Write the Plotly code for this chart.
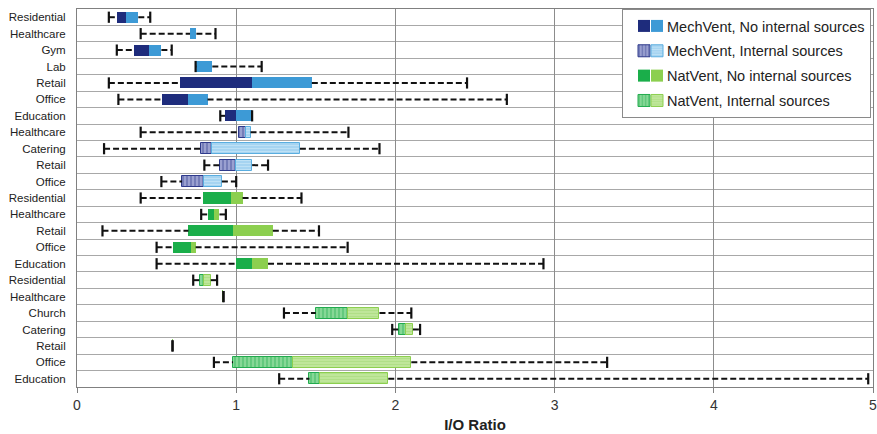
import plotly.graph_objects as go

# ---------------- data ----------------
labels = ["Residential", "Healthcare", "Gym", "Lab", "Retail", "Office", "Education",
          "Healthcare", "Catering", "Retail", "Office",
          "Residential", "Healthcare", "Retail", "Office", "Education",
          "Residential", "Healthcare", "Church", "Catering", "Retail", "Office", "Education"]
group = [0] * 7 + [1] * 4 + [2] * 5 + [3] * 7
wmin = [0.20, 0.40, 0.25, 0.745, 0.20, 0.26, 0.90,
        0.40, 0.17, 0.80, 0.53,
        0.40, 0.78, 0.16, 0.50, 0.50,
        0.73, 0.92, 1.30, 1.98, 0.60, 0.86, 1.27]
q1 = [0.25, 0.71, 0.355, 0.75, 0.65, 0.535, 0.93,
      1.02, 0.78, 0.90, 0.66,
      0.79, 0.82, 0.70, 0.60, 1.00,
      0.77, 0.92, 1.50, 2.02, 0.60, 0.98, 1.46]
med = [0.305, 0.71, 0.45, 0.75, 1.10, 0.70, 1.00,
       1.06, 0.845, 1.00, 0.80,
       0.97, 0.86, 0.98, 0.715, 1.10,
       0.80, 0.92, 1.705, 2.065, 0.60, 1.355, 1.525]
q3 = [0.385, 0.75, 0.53, 0.85, 1.475, 0.82, 1.10,
      1.09, 1.40, 1.10, 0.91,
      1.04, 0.895, 1.23, 0.745, 1.20,
      0.84, 0.92, 1.90, 2.11, 0.60, 2.10, 1.955]
wmax = [0.46, 0.87, 0.595, 1.16, 2.45, 2.70, 1.10,
        1.705, 1.90, 1.20, 1.00,
        1.41, 0.935, 1.52, 1.70, 2.93,
        0.88, 0.92, 2.10, 2.155, 0.60, 3.33, 4.97]
group_names = ["MechVent, No internal sources", "MechVent, Internal sources",
               "NatVent, No internal sources", "NatVent, Internal sources"]
x_ticks = [0, 1, 2, 3, 4, 5]

# ---------------- styles ----------------
dark_style = [
    dict(color="#1e2c7c", line=dict(width=0)),
    dict(color="#8f95c9", line=dict(color="#2e3a8c", width=1),
         pattern=dict(shape="|", bgcolor="#9aa0d0", fgcolor="#2e3a8c", size=4, solidity=0.35)),
    dict(color="#1aae4a", line=dict(width=0)),
    dict(color="#80d492", line=dict(color="#22ab4e", width=1),
         pattern=dict(shape="|", bgcolor="#86d896", fgcolor="#22ab4e", size=4, solidity=0.35)),
]
light_style = [
    dict(color="#3d9ad6", line=dict(width=0)),
    dict(color="#a3d2f0", line=dict(color="#5aaee0", width=1),
         pattern=dict(shape="-", bgcolor="#a6d4f1", fgcolor="#d6edfa", size=3, solidity=0.35)),
    dict(color="#8ccf4f", line=dict(width=0)),
    dict(color="#bde597", line=dict(color="#8ccf4f", width=1),
         pattern=dict(shape="-", bgcolor="#bfe69a", fgcolor="#a2d874", size=3, solidity=0.35)),
]

rows = list(range(len(labels)))
BW = 0.67

fig = go.Figure()

for g in range(4):
    idx = [i for i in rows if group[i] == g]
    fig.add_trace(go.Bar(
        orientation="h", y=idx, base=[q1[i] for i in idx],
        x=[med[i] - q1[i] for i in idx], width=BW,
        marker=dark_style[g], name=" ", legend="legend2", legendgroup=f"d{g}",
        hoverinfo="skip"))
    fig.add_trace(go.Bar(
        orientation="h", y=idx, base=[med[i] for i in idx],
        x=[q3[i] - med[i] for i in idx], width=BW,
        marker=light_style[g], name=" ", legend="legend3", legendgroup=f"l{g}",
        hoverinfo="skip"))

# legend text entries (no marks of their own)
for g in range(4):
    fig.add_trace(go.Bar(orientation="h", x=[None], y=[None], name=group_names[g],
                         marker=dict(color="rgba(0,0,0,0)", line=dict(width=0)),
                         legend="legend", legendgroup=f"t{g}", hoverinfo="skip"))

# whiskers
wx, wy = [], []
for i in rows:
    wx += [wmin[i], q1[i], None, q3[i], wmax[i], None]
    wy += [i, i, None, i, i, None]
fig.add_trace(go.Scatter(x=wx, y=wy, mode="lines", showlegend=False, hoverinfo="skip",
                         line=dict(color="#111111", width=2, dash="6px,3px")))
cx, cy = [], []
for i in rows:
    cx += [wmin[i], wmax[i]]
    cy += [i, i]
fig.add_trace(go.Scatter(x=cx, y=cy, mode="markers", showlegend=False, hoverinfo="skip",
                         marker=dict(symbol="line-ns", size=8,
                                     line=dict(color="#111111", width=2.2))))

PW = 796.0
FONT = "Liberation Sans, Arial, sans-serif"
legend_common = dict(yanchor="top", y=1.0, xanchor="left", borderwidth=1,
                     font=dict(family=FONT, size=14.5, color="#222222"),
                     tracegroupgap=3, itemclick=False, itemdoubleclick=False)
clear = "rgba(0,0,0,0)"

fig.update_layout(
    width=877, height=434,
    margin=dict(l=77, r=4, t=9, b=47),
    paper_bgcolor="white", plot_bgcolor="white",
    barmode="overlay", bargap=0,
    font=dict(family=FONT, color="#222222"),
    legend=dict(x=(622 - 77) / PW, bgcolor="white", bordercolor="#8a8a8a", indentation=4,
                **legend_common),
    legend2=dict(x=(623 - 77) / PW, bgcolor=clear, bordercolor=clear, **legend_common),
    legend3=dict(x=(636 - 77) / PW, bgcolor=clear, bordercolor=clear, **legend_common),
    xaxis=dict(range=[0, 5], tickvals=x_ticks, showgrid=True, gridcolor="#8c8c8c", gridwidth=1,
               zeroline=False, showline=True, mirror=True, linecolor="#808080", linewidth=1,
               ticks="outside", ticklen=5, tickcolor="#808080", ticklabeloverflow="allow",
               automargin=False,
               tickfont=dict(size=14, color="#333333"),
               title=dict(text="<b>I/O Ratio</b>", font=dict(size=15, color="#222222"), standoff=7)),
    yaxis=dict(range=[len(labels) - 0.5, -0.5], tickmode="array", tickvals=rows, ticktext=labels,
               showgrid=False, zeroline=False, showline=True, mirror=True, linecolor="#808080",
               tickfont=dict(size=11.5, color="#222222"), ticklabelstandoff=8,
               minor=dict(tickmode="array", tickvals=[r + 0.5 for r in rows[:-1]],
                          showgrid=True, gridcolor="#a8a8a8", gridwidth=1, ticks="")),
)

fig.write_html("out.html", config={"displayModeBar": False},
               post_script="document.body.style.margin='0';document.body.style.overflow='hidden';")
